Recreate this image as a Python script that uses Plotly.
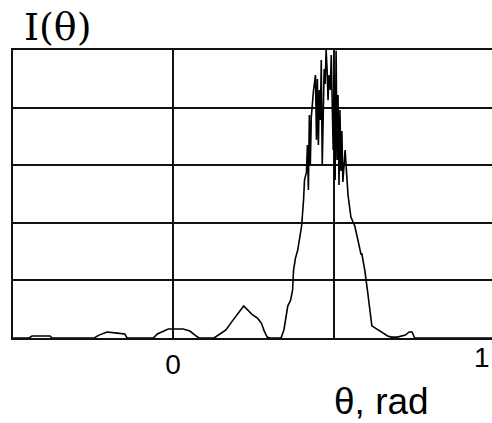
import plotly.graph_objects as go

# data (theta in rad, normalized intensity)
theta = [-0.5, -0.447, -0.438, -0.382, -0.376, -0.245, -0.23, -0.205, -0.174, -0.15, -0.143,
         -0.061, -0.049, -0.031, -0.015, 0.031, 0.052, 0.068, 0.08,
         0.127, 0.146, 0.164, 0.182, 0.198, 0.21, 0.219, 0.232, 0.244, 0.262, 0.274, 0.283, 0.292, 0.301,
         0.335, 0.344, 0.35, 0.356, 0.365, 0.371, 0.374, 0.38, 0.387, 0.393, 0.399, 0.405, 0.408, 0.414,
         0.417, 0.42, 0.423, 0.426, 0.429, 0.436, 0.442, 0.445, 0.448, 0.451, 0.454, 0.457, 0.46,
         0.463, 0.466, 0.469, 0.472, 0.475, 0.478, 0.481, 0.484, 0.488, 0.491, 0.494, 0.497, 0.5,
         0.503, 0.506, 0.509, 0.512, 0.515, 0.518, 0.521, 0.524, 0.527, 0.534, 0.543, 0.552, 0.558,
         0.564, 0.573, 0.583, 0.586, 0.595, 0.604, 0.61, 0.617, 0.666, 0.678, 0.696, 0.721, 0.733,
         0.742, 0.75, 0.99]
intensity = [0.0, 0.0, 0.007, 0.007, 0.0, 0.0, 0.01, 0.021, 0.017, 0.014, 0.0,
             0.0, 0.014, 0.024, 0.031, 0.031, 0.024, 0.01, 0.0,
             0.0, 0.014, 0.028, 0.056, 0.08, 0.101, 0.111, 0.097, 0.083, 0.069, 0.052, 0.024, 0.003, 0.0,
             0.0, 0.028, 0.069, 0.111, 0.132, 0.167, 0.236, 0.278, 0.306, 0.347, 0.389, 0.479, 0.549, 0.576,
             0.67, 0.514, 0.774, 0.601, 0.767, 0.861, 0.913, 0.688, 0.899, 0.67, 0.861, 0.757, 0.965,
             0.601, 0.795, 0.934, 0.882, 1.0, 0.934, 0.826, 0.913, 0.861, 0.983, 0.826, 0.653, 0.913,
             0.549, 0.997, 0.618, 0.844, 0.531, 0.792, 0.58, 0.719, 0.542, 0.653, 0.497, 0.42, 0.403,
             0.389, 0.344, 0.292, 0.292, 0.236, 0.16, 0.097, 0.042, 0.007, 0.003, 0.003, 0.01, 0.021,
             0.021, 0.0, 0.0]

x_tick_vals = [0, 0.5]
x_tick_text = ["0", ""]
y_tick_vals = [0.2, 0.4, 0.6, 0.8, 1.0]

fig = go.Figure()
fig.add_trace(go.Scatter(x=theta, y=intensity, mode="lines",
                         line=dict(color="black", width=1.6), showlegend=False))

fig.update_layout(
    width=492, height=423,
    margin=dict(l=13, r=0, t=50, b=85),
    paper_bgcolor="white", plot_bgcolor="white",
    xaxis=dict(range=[-0.497, 0.99], tickvals=x_tick_vals, ticktext=x_tick_text,
               showgrid=True, gridcolor="#111", gridwidth=2, zeroline=False,
               showline=True, mirror=True, linecolor="#111", linewidth=2, ticks="",
               tickfont=dict(family="Liberation Sans", size=28, color="black")),
    yaxis=dict(range=[0, 1.0], tickvals=y_tick_vals, showticklabels=False,
               showgrid=True, gridcolor="#111", gridwidth=2, zeroline=False,
               showline=True, linecolor="#111", linewidth=2, ticks=""),
    annotations=[
        dict(text="I(θ)", xref="paper", yref="paper", x=0.019, y=1.08,
             xanchor="left", yanchor="middle", showarrow=False,
             font=dict(family="DejaVu Serif", size=38, color="black")),
        dict(text="θ, rad", xref="paper", yref="paper", x=0.77, y=-0.222,
             xanchor="center", yanchor="middle", showarrow=False,
             font=dict(family="Liberation Sans", size=37, color="black")),
        dict(text="1", xref="paper", yref="paper", x=0.999, y=-0.066,
             xanchor="right", yanchor="middle", showarrow=False,
             font=dict(family="Liberation Sans", size=28, color="black")),
    ],
)

fig.write_html("out.html")
